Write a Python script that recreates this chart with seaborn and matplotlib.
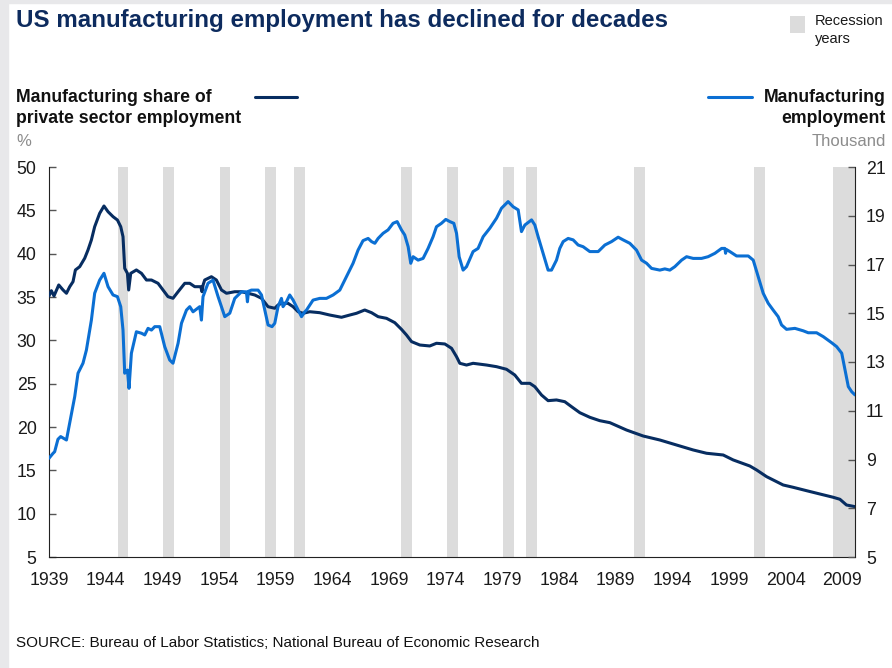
import matplotlib
matplotlib.use("Agg")
import matplotlib.pyplot as plt
from matplotlib.lines import Line2D
from matplotlib.patches import Rectangle
from matplotlib.ticker import MultipleLocator, FixedLocator
import numpy as np
import pandas as pd
import seaborn as sns

# Manufacturing employment, millions (right axis)
emp_year = [1939.0, 1939.35, 1939.5, 1939.79, 1940.03, 1940.54, 1941.18, 1941.27, 1941.56, 1942.0,
            1942.3, 1942.74, 1943.03, 1943.47, 1943.85, 1944.21, 1944.65, 1945.04, 1945.33, 1945.53,
            1945.68, 1945.92, 1946.06, 1946.27, 1946.71, 1947.16, 1947.45, 1947.74, 1948.04, 1948.33,
            1948.77, 1949.21, 1949.65, 1949.94, 1950.39, 1950.69, 1951.13, 1951.42, 1951.71, 1952.3,
            1952.45, 1952.59, 1953.03, 1953.47, 1953.92, 1954.51, 1954.95, 1955.39, 1955.98, 1956.42,
            1956.51, 1956.6, 1956.86, 1957.45, 1957.75, 1958.04, 1958.33, 1958.68, 1958.92, 1959.21,
            1959.51, 1959.65, 1959.95, 1960.24, 1960.54, 1960.98, 1961.28, 1961.57, 1961.72, 1962.3,
            1962.89, 1963.48, 1964.07, 1964.66, 1964.81, 1965.25, 1965.83, 1966.27, 1966.71, 1967.16,
            1967.46, 1967.75, 1968.04, 1968.48, 1968.92, 1969.36, 1969.72, 1970.1, 1970.39, 1970.69,
            1970.92, 1971.13, 1971.57, 1972.01, 1972.45, 1972.89, 1973.19, 1973.63, 1974.01, 1974.37,
            1974.72, 1974.96, 1975.19, 1975.54, 1975.84, 1976.42, 1976.86, 1977.31, 1977.9, 1978.49,
            1978.93, 1979.51, 1979.95, 1980.4, 1980.69, 1980.99, 1981.58, 1981.87, 1982.16, 1982.6,
            1983.04, 1983.34, 1983.78, 1984.07, 1984.37, 1984.81, 1985.25, 1985.69, 1986.13, 1986.72,
            1987.46, 1988.05, 1988.64, 1989.22, 1989.66, 1990.25, 1990.84, 1991.29, 1991.73, 1992.17,
            1992.9, 1993.34, 1993.78, 1994.22, 1994.82, 1995.26, 1995.84, 1996.58, 1997.16, 1997.76,
            1998.35, 1998.64, 1998.7, 1998.76, 1999.08, 1999.67, 2000.7, 2001.14, 2001.58, 2002.02,
            2002.46, 2002.9, 2003.34, 2003.64, 2004.08, 2004.82, 2005.55, 2005.99, 2006.73, 2007.32,
            2008.06, 2008.5, 2008.95, 2009.24, 2009.53, 2009.83, 2010.12]
emp_value = [9.05, 9.25, 9.32, 9.83, 9.94, 9.80, 11.37, 11.58, 12.54, 12.95,
             13.49, 14.72, 15.82, 16.36, 16.64, 16.09, 15.75, 15.68, 15.27, 14.31,
             12.54, 12.67, 11.92, 13.36, 14.24, 14.18, 14.11, 14.38, 14.31, 14.45,
             14.45, 13.63, 13.08, 12.95, 13.77, 14.59, 15.13, 15.27, 15.06, 15.27,
             14.72, 15.68, 16.23, 16.36, 15.68, 14.86, 15.00, 15.61, 15.88, 15.88,
             15.47, 15.90, 15.95, 15.95, 15.75, 15.13, 14.52, 14.45, 14.59, 15.27,
             15.61, 15.27, 15.47, 15.75, 15.54, 15.13, 14.86, 15.06, 15.13, 15.54,
             15.61, 15.61, 15.75, 15.95, 16.09, 16.50, 17.05, 17.59, 17.98, 18.07,
             17.94, 17.87, 18.07, 18.28, 18.42, 18.69, 18.76, 18.42, 18.21, 17.73,
             17.05, 17.32, 17.18, 17.25, 17.66, 18.14, 18.55, 18.69, 18.85, 18.76,
             18.69, 18.28, 17.32, 16.77, 16.91, 17.53, 17.66, 18.14, 18.49, 18.90,
             19.31, 19.58, 19.37, 19.24, 18.35, 18.62, 18.83, 18.62, 18.14, 17.46,
             16.77, 16.77, 17.18, 17.66, 17.94, 18.07, 18.01, 17.80, 17.73, 17.53,
             17.53, 17.80, 17.94, 18.12, 18.01, 17.87, 17.59, 17.18, 17.05, 16.84,
             16.77, 16.82, 16.77, 16.91, 17.18, 17.32, 17.25, 17.25, 17.32, 17.46,
             17.66, 17.66, 17.46, 17.62, 17.53, 17.35, 17.35, 17.18, 16.50, 15.82,
             15.41, 15.13, 14.86, 14.52, 14.34, 14.38, 14.28, 14.20, 14.20, 14.04,
             13.79, 13.63, 13.36, 12.67, 11.99, 11.78, 11.65]

# Manufacturing share of private sector employment, percent (left axis)
share_year = [1939.0, 1939.21, 1939.44, 1939.86, 1940.24, 1940.54, 1940.83, 1941.12, 1941.33, 1941.71,
              1942.15, 1942.44, 1942.74, 1943.03, 1943.47, 1943.85, 1944.21, 1944.65, 1945.04, 1945.33,
              1945.53, 1945.68, 1945.92, 1946.03, 1946.21, 1946.71, 1947.16, 1947.6, 1948.04, 1948.62,
              1949.06, 1949.5, 1949.94, 1950.39, 1950.98, 1951.42, 1951.86, 1952.39, 1952.5, 1952.6,
              1952.74, 1953.33, 1953.77, 1954.22, 1954.66, 1955.39, 1955.98, 1956.56, 1957.16, 1957.75,
              1958.33, 1958.92, 1959.21, 1959.51, 1960.09, 1960.54, 1960.98, 1961.42, 1962.01, 1962.89,
              1963.77, 1964.81, 1965.54, 1966.13, 1966.86, 1967.46, 1968.04, 1968.78, 1969.51, 1970.1,
              1970.54, 1970.99, 1971.72, 1972.6, 1973.19, 1973.93, 1974.52, 1974.96, 1975.25, 1975.84,
              1976.42, 1977.61, 1978.49, 1979.37, 1980.1, 1980.69, 1981.43, 1981.87, 1982.46, 1983.04,
              1983.78, 1984.51, 1985.11, 1985.84, 1986.72, 1987.6, 1988.49, 1989.96, 1991.43, 1992.9,
              1994.38, 1995.84, 1997.02, 1998.49, 1999.37, 2000.84, 2001.44, 2002.32, 2003.78, 2004.67,
              2005.85, 2007.02, 2008.2, 2008.79, 2009.37, 2010.12]
share_value = [35.12, 35.73, 35.12, 36.39, 35.81, 35.43, 36.19, 36.77, 38.12, 38.50,
               39.47, 40.42, 41.58, 43.11, 44.65, 45.50, 44.84, 44.27, 43.88, 43.11,
               41.96, 38.31, 37.73, 35.81, 37.73, 38.12, 37.73, 36.96, 36.96, 36.58,
               35.81, 35.04, 34.85, 35.61, 36.58, 36.58, 36.19, 36.19, 35.61, 36.40,
               36.96, 37.34, 36.96, 35.81, 35.43, 35.61, 35.61, 35.43, 35.23, 34.85,
               33.88, 33.70, 34.08, 34.27, 34.27, 33.88, 33.30, 33.12, 33.30, 33.19,
               32.92, 32.66, 32.92, 33.12, 33.50, 33.19, 32.73, 32.54, 32.04, 31.27,
               30.62, 29.85, 29.46, 29.35, 29.66, 29.58, 29.08, 28.11, 27.35, 27.15,
               27.35, 27.15, 26.96, 26.66, 26.00, 25.04, 25.04, 24.65, 23.69, 23.04,
               23.12, 22.92, 22.34, 21.65, 21.12, 20.73, 20.50, 19.65, 18.96, 18.50,
               17.92, 17.35, 16.97, 16.77, 16.20, 15.50, 15.04, 14.27, 13.31, 13.04,
               12.65, 12.27, 11.89, 11.66, 11.00, 10.81]

# Recession periods shaded on the chart
recession_start = [1945.05, 1949.1, 1954.05, 1958.1, 1960.6, 1970.1, 1974.1, 1979.1, 1981.1, 1990.6, 2001.2, 2008.2]
recession_end = [1946.0, 1950.05, 1955.0, 1959.05, 1961.55, 1971.05, 1975.05, 1980.05, 1982.05, 1991.55, 2002.15, 2010.12]

year_ticks = list(range(1939, 2010, 5))
share_ticks = list(range(5, 51, 5))
emp_ticks = list(range(5, 22, 2))

NAVY = "#072d61"
BLUE = "#0b6fd3"
GREY_TXT = "#8c8c8c"

sns.set_style("white")
plt.rcParams["font.family"] = ["Liberation Sans", "DejaVu Sans"]

fig = plt.figure(figsize=(8.92, 6.68), dpi=100)
fig.patch.set_facecolor("white")
# thin grey frame on the left and top edges
fig.add_artist(Rectangle((0, 0), 8 / 892, 1, transform=fig.transFigure, color="#e8e8ea", zorder=0))
fig.add_artist(Rectangle((0, 1 - 3 / 668), 1, 3 / 668, transform=fig.transFigure, color="#e8e8ea", zorder=0))

ax = fig.add_axes([49 / 892, 1 - 557 / 668, (855 - 49) / 892, (557 - 167) / 668])
ax2 = ax.twinx()

for s, e in zip(recession_start, recession_end):
    ax.axvspan(s, e, color="#dcdcdc", lw=0, zorder=0)

share_df = pd.DataFrame({"year": share_year, "share": share_value})
emp_df = pd.DataFrame({"year": emp_year, "employment": emp_value})

sns.lineplot(data=share_df, x="year", y="share", ax=ax, color=NAVY, lw=2.2, zorder=3)
sns.lineplot(data=emp_df, x="year", y="employment", ax=ax2, color=BLUE, lw=2.2, zorder=3)

ax.set_xlim(1939, 2010.12)
ax.set_ylim(5, 50)
ax2.set_ylim(5, 21)
ax.set_xlabel("")
ax.set_ylabel("")
ax2.set_ylabel("")

ax.xaxis.set_major_locator(FixedLocator(year_ticks))
ax.xaxis.set_minor_locator(MultipleLocator(1))
ax.set_xticklabels([str(y) for y in year_ticks])
ax.yaxis.set_major_locator(FixedLocator(share_ticks))
ax2.yaxis.set_major_locator(FixedLocator(emp_ticks))

for a in (ax, ax2):
    a.spines["top"].set_visible(False)
    a.set_facecolor("none")
ax.spines["right"].set_visible(False)
ax.spines["left"].set_color("#222222")
ax.spines["bottom"].set_color("#222222")
ax2.spines["right"].set_color("#222222")
ax2.spines["left"].set_visible(False)
ax2.spines["bottom"].set_visible(False)

ax.tick_params(axis="x", which="both", direction="in", length=5, width=1, color="#333333",
               labelsize=12.8, pad=11, labelcolor="#1a1a1a")
ax.tick_params(axis="y", which="major", direction="in", length=5, width=1, color="#555555",
               labelsize=12.8, pad=9, labelcolor="#1a1a1a", left=True)
ax2.tick_params(axis="y", which="major", direction="in", length=5, width=1, color="#555555",
                labelsize=12.8, pad=8, labelcolor="#1a1a1a", right=True)
ax.set_zorder(2)
ax2.set_zorder(3)

# Title and legend text
fig.text(16 / 892, 1 - 21 / 668, "US manufacturing employment has declined for decades",
         fontsize=17.4, fontweight="bold", color="#0d2b5e", va="center", ha="left")
fig.add_artist(Rectangle((790 / 892, 1 - 33 / 668), 15 / 892, 17 / 668, transform=fig.transFigure,
                         color="#dcdcdc", lw=0))
fig.text(815 / 892, 1 - 30 / 668, "Recession\nyears", fontsize=10.5, color="#1a1a1a",
         va="center", ha="left", linespacing=1.4)

fig.text(16 / 892, 1 - 108 / 668, "Manufacturing share of\nprivate sector employment",
         fontsize=12.7, fontweight="bold", color="#111111", va="center", ha="left", linespacing=1.3)
fig.text(16 / 892, 1 - 141 / 668, "%", fontsize=12, color=GREY_TXT, va="center", ha="left")
fig.add_artist(Line2D([255 / 892, 297 / 892], [1 - 97 / 668, 1 - 97 / 668], color=NAVY, lw=2.2,
                      transform=fig.transFigure))

fig.text(886 / 892, 1 - 108 / 668, "Manufacturing\nemployment",
         fontsize=12.7, fontweight="bold", color="#111111", va="center", ha="right",
         multialignment="right", linespacing=1.3)
fig.text(886 / 892, 1 - 141 / 668, "Thousand", fontsize=12, color=GREY_TXT, va="center", ha="right")
fig.add_artist(Line2D([708 / 892, 752 / 892], [1 - 97 / 668, 1 - 97 / 668], color=BLUE, lw=2.2,
                      transform=fig.transFigure))

fig.text(16 / 892, 1 - 643 / 668,
         "SOURCE: Bureau of Labor Statistics; National Bureau of Economic Research",
         fontsize=11, color="#111111", va="center", ha="left")

fig.savefig("out.png", dpi=100, facecolor="white")
